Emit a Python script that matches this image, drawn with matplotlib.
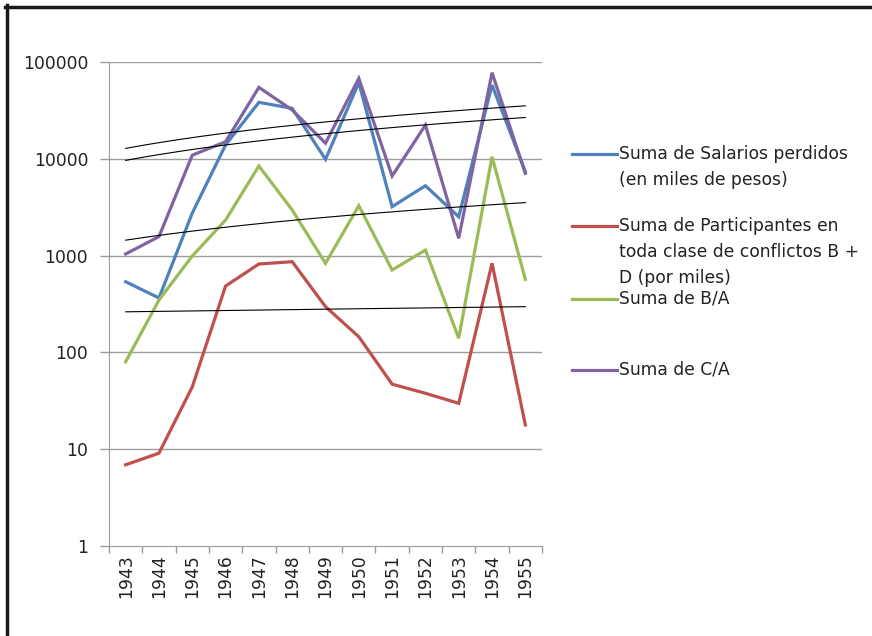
import numpy as np
import matplotlib
matplotlib.use("Agg")
import matplotlib.pyplot as plt
from matplotlib.lines import Line2D

years = ["1943", "1944", "1945", "1946", "1947", "1948", "1949", "1950",
         "1951", "1952", "1953", "1954", "1955"]
salarios = [537, 365, 2750, 13900, 38300, 33200, 9880, 61100, 3200, 5270, 2520, 57800, 7360]
participantes = [6.9, 9.1, 44, 485, 819, 865, 297, 145, 47, 37.8, 29.8, 832, 17.8]
b_a = [80, 348, 990, 2330, 8430, 2960, 832, 3280, 710, 1140, 140, 10500, 569]
c_a = [1040, 1570, 10900, 15000, 54700, 31900, 14500, 67800, 6640, 22300, 1510, 77600, 7080]
labels = ["Suma de Salarios perdidos\n(en miles de pesos)",
          "Suma de Participantes en\ntoda clase de conflictos B +\nD (por miles)",
          "Suma de B/A",
          "Suma de C/A"]
yticks = [1, 10, 100, 1000, 10000, 100000]

colors = ["#4F81BD", "#C0504D", "#9BBB59", "#8064A2"]
series = [salarios, participantes, b_a, c_a]

W, H = 872, 636
fig = plt.figure(figsize=(W / 100, H / 100), dpi=100)
fig.patch.set_facecolor("white")
ax = fig.add_axes([109 / W, (H - 546) / H, 433 / W, 484 / H])

x = np.arange(len(years))
grid_c = "#9c9c9c"
ax.set_yscale("log")
ax.set_ylim(1, 100000)
ax.set_xlim(-0.5, len(years) - 0.5)
ax.set_yticks(yticks)
ax.set_yticklabels([str(v) for v in yticks])
ax.yaxis.set_minor_locator(matplotlib.ticker.NullLocator())
for yv in yticks[1:]:
    ax.axhline(yv, color=grid_c, lw=1.0, zorder=1)

ax.set_xticks(x)
ax.set_xticklabels(years, rotation=90)
ax.set_xticks(np.arange(len(years) + 1) - 0.5, minor=True)
ax.tick_params(axis="x", which="major", length=0, pad=6, labelsize=12.3, colors="#222222")
ax.tick_params(axis="x", which="minor", length=5, width=1, color=grid_c)
ax.tick_params(axis="y", which="major", length=6.5, width=1, color=grid_c, pad=8.5,
               labelsize=12.3, labelcolor="#222222")
for s in ["top", "right"]:
    ax.spines[s].set_visible(False)
ax.spines["left"].set_color(grid_c)
ax.spines["bottom"].set_color(grid_c)

for vals, c in zip(series, colors):
    ax.plot(x, vals, color=c, lw=2.3, zorder=3, solid_joinstyle="miter")

# linear trendlines (drawn densely so they curve on the log axis)
xf = np.linspace(0, len(years) - 1, 200)
for vals in series:
    m, b = np.polyfit(x, np.array(vals, float), 1)
    ax.plot(xf, m * xf + b, color="black", lw=0.8, zorder=4)

# legend
legend_y = [154, 226, 299, 370]
line_step = 26
for lab, c, ly in zip(labels, colors, legend_y):
    fy = 1 - ly / H
    fig.add_artist(Line2D([572 / W, 617 / W], [fy, fy], color=c, lw=2.3,
                          transform=fig.transFigure))
    for i, part in enumerate(lab.split("\n")):
        fig.text(619 / W, 1 - (ly + i * line_step) / H, part, fontsize=12.3,
                 color="#222222", va="center", ha="left")

# outer border (top and left)
fig.add_artist(Line2D([5 / W, 1], [1 - 7 / H, 1 - 7 / H], color="#1a1a1a", lw=2.5,
                      transform=fig.transFigure))
fig.add_artist(Line2D([7 / W, 7 / W], [0, 1 - 5 / H], color="#1a1a1a", lw=2.5,
                      transform=fig.transFigure))

fig.savefig("out.png", dpi=100, facecolor="white")
